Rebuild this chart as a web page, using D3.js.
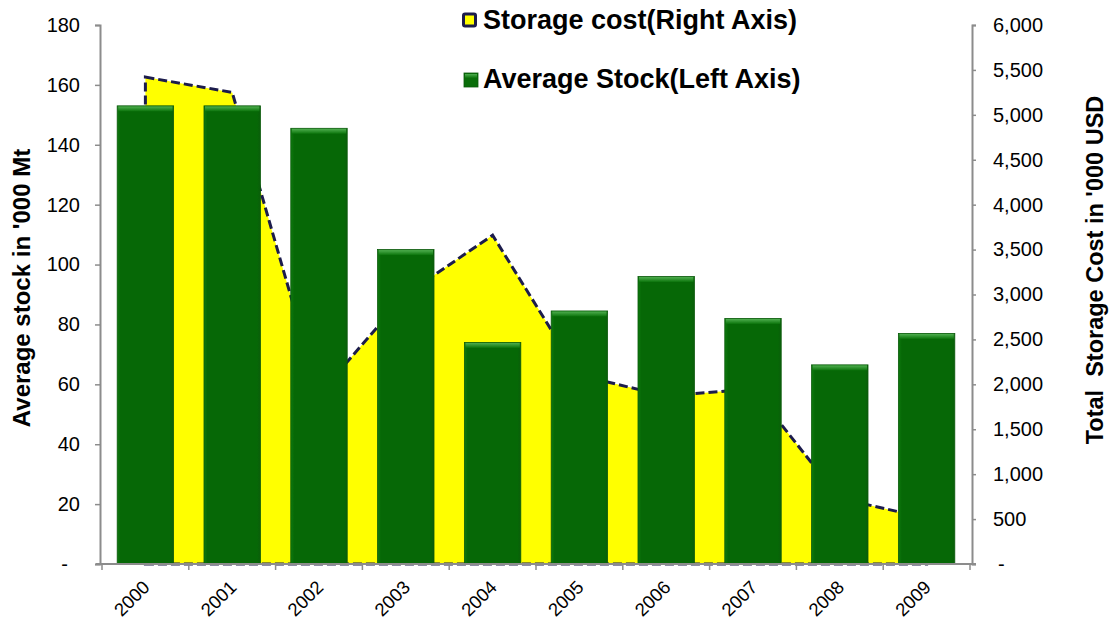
<!DOCTYPE html>
<html>
<head>
<meta charset="utf-8">
<script src="https://cdn.jsdelivr.net/npm/d3@7"></script>
<style>
  html, body { margin: 0; padding: 0; background: #fff; }
  svg { display: block; font-family: "Liberation Sans", Arial, sans-serif; }
</style>
</head>
<body>
<svg id="chart" width="1109" height="622"></svg>
<script>
const years = ["2000","2001","2002","2003","2004","2005","2006","2007","2008","2009"];
const averageStock = [153, 153, 145.5, 105, 74, 84.5, 96, 82, 66.5, 77];
const storageCost = [5420, 5250, 1890, 3000, 3660, 2100, 1870, 1950, 730, 510];
const leftTicks = [0, 20, 40, 60, 80, 100, 120, 140, 160, 180];
const rightTicks = [0, 500, 1000, 1500, 2000, 2500, 3000, 3500, 4000, 4500, 5000, 5500, 6000];

const svg = d3.select("#chart");
const m = { left: 100, right: 972, top: 25, bottom: 564 };

const x = d3.scaleBand().domain(years).range([102, 970]).paddingInner(0.35).paddingOuter(0.175);
const yL = d3.scaleLinear().domain([0, 180]).range([m.bottom, m.top]);
const yR = d3.scaleLinear().domain([0, 6000]).range([m.bottom, m.top]);

const defs = svg.append("defs");
const g1 = defs.append("linearGradient").attr("id", "barTop").attr("x1", 0).attr("y1", 0).attr("x2", 0).attr("y2", 1);
g1.append("stop").attr("offset", "0%").attr("stop-color", "#4fae4f");
g1.append("stop").attr("offset", "100%").attr("stop-color", "#0b740b");
const g2 = defs.append("linearGradient").attr("id", "barBody").attr("x1", 0).attr("y1", 0).attr("x2", 1).attr("y2", 0);
g2.append("stop").attr("offset", "0%").attr("stop-color", "#0e7a0e");
g2.append("stop").attr("offset", "6%").attr("stop-color", "#066806");
g2.append("stop").attr("offset", "94%").attr("stop-color", "#066806");
g2.append("stop").attr("offset", "100%").attr("stop-color", "#0a5e0a");

// Area (storage cost, right axis)
const cx = d => x(d) + x.bandwidth() / 2;
const pts = years.map((yr, i) => [cx(yr), yR(storageCost[i])]);
const area = d3.area().x(d => d[0]).y0(yR(0)).y1(d => d[1]);
svg.append("path")
  .datum(pts)
  .attr("d", area)
  .attr("fill", "#ffff00")
  .attr("stroke", "#1c1c4c")
  .attr("stroke-width", 3)
  .attr("stroke-dasharray", "9,4")
  .attr("stroke-linejoin", "miter");

// Bars (average stock, left axis)
const bars = svg.append("g");
years.forEach((yr, i) => {
  const bx = x(yr), bw = x.bandwidth(), by = yL(averageStock[i]);
  bars.append("rect")
    .attr("x", bx).attr("y", by).attr("width", bw).attr("height", yL(0) - by)
    .attr("fill", "url(#barBody)").attr("stroke", "#0b5a0b").attr("stroke-width", 0.8);
  bars.append("rect")
    .attr("x", bx + 1).attr("y", by + 0.5).attr("width", bw - 2).attr("height", 5)
    .attr("fill", "url(#barTop)");
});

// Axes
const axisColor = "#8c8c8c";
const tickFont = 20;

const leftAxis = d3.axisLeft(yL).tickValues(leftTicks).tickSize(5).tickPadding(15)
  .tickFormat(d => d === 0 ? "-" : d);
const gl = svg.append("g").attr("transform", `translate(${m.left},0)`).call(leftAxis);
gl.selectAll("text").filter(d => d === 0).attr("dx", -12);

const rightAxis = d3.axisRight(yR).tickValues(rightTicks).tickSize(4).tickPadding(17)
  .tickFormat(d => d === 0 ? "-" : d3.format(",")(d));
const gr = svg.append("g").attr("transform", `translate(${m.right},0)`).call(rightAxis);
gr.selectAll("text").filter(d => d === 0).attr("dx", 5);

[gl, gr].forEach(g => {
  g.select(".domain").attr("stroke", axisColor).attr("stroke-width", 2);
  g.selectAll(".tick line").attr("stroke", axisColor).attr("stroke-width", 1.5);
  g.selectAll("text").attr("font-size", tickFont).attr("fill", "#000")
    .attr("font-family", "'Liberation Sans', Arial, sans-serif");
});

// X axis
const gx = svg.append("g");
gx.append("line").attr("x1", 96).attr("x2", 976).attr("y1", m.bottom).attr("y2", m.bottom)
  .attr("stroke", axisColor).attr("stroke-width", 2);
const step = x.step();
const bounds = d3.range(years.length + 1).map(i => 102 + i * step);
gx.selectAll("line.tk").data(bounds).enter().append("line").attr("class", "tk")
  .attr("x1", d => d).attr("x2", d => d).attr("y1", m.bottom).attr("y2", m.bottom + 6)
  .attr("stroke", axisColor).attr("stroke-width", 1.5);
gx.selectAll("text").data(years).enter().append("text")
  .attr("transform", d => `translate(${cx(d) + 2},${m.bottom + 21}) rotate(-45)`)
  .attr("text-anchor", "end")
  .attr("dominant-baseline", "middle")
  .attr("font-size", 18.5)
  .text(d => d);

// Axis titles
svg.append("text")
  .attr("transform", `translate(30,288) rotate(-90)`)
  .attr("text-anchor", "middle").attr("font-weight", "bold").attr("font-size", 24)
  .text("Average stock in '000 Mt");
svg.append("text")
  .attr("transform", `translate(1103,270) rotate(-90)`)
  .attr("text-anchor", "middle").attr("font-weight", "bold").attr("font-size", 23.5)
  .attr("xml:space", "preserve")
  .style("white-space", "pre")
  .text("Total  Storage Cost in '000 USD");

// Legend
const lg = svg.append("g");
lg.append("rect").attr("x", 463.5).attr("y", 14).attr("width", 12).attr("height", 12)
  .attr("rx", 1.5)
  .attr("fill", "#ffff00").attr("stroke", "#1c1c4c").attr("stroke-width", 3);
lg.append("text").attr("x", 483).attr("y", 29).attr("font-weight", "bold").attr("font-size", 27)
  .text("Storage cost(Right Axis)");
lg.append("rect").attr("x", 464).attr("y", 73).attr("width", 14).attr("height", 14)
  .attr("fill", "#0a6e0a").attr("stroke", "#0b5a0b").attr("stroke-width", 0.8);
lg.append("rect").attr("x", 465).attr("y", 74).attr("width", 12).attr("height", 4)
  .attr("fill", "url(#barTop)");
lg.append("text").attr("x", 483).attr("y", 88).attr("font-weight", "bold").attr("font-size", 27)
  .text("Average Stock(Left Axis)");
</script>
</body>
</html>
